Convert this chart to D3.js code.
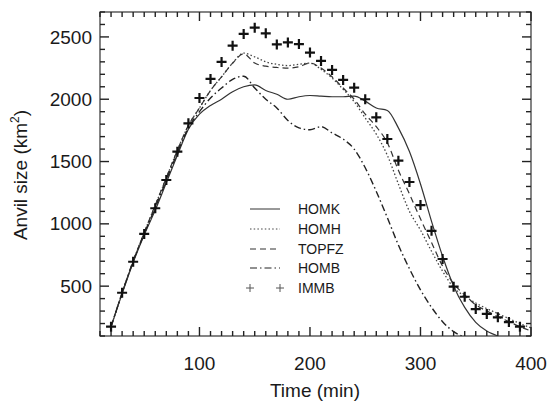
<!DOCTYPE html>
<html><head><meta charset="utf-8">
<script src="https://cdn.jsdelivr.net/npm/d3@7"></script>
<style>
html,body{margin:0;padding:0;background:#fff;}
svg{display:block;font-family:"Liberation Sans",Arial,Helvetica,sans-serif;}
</style></head>
<body><svg id="c" width="547" height="404"></svg>
<script>
const times = [20,30,40,50,60,70,80,90,100,110,120,130,140,150,160,170,180,190,200,210,220,230,240,250,260,270,280,290,300,310,320,330,340,350,360,370,380,390,400];
const HOMK  = [175,440,690,910,1110,1330,1550,1760,1880,1950,2000,2060,2100,2115,2070,2040,2000,2020,2030,2025,2020,2020,2025,1985,1930,1910,1770,1580,1320,1020,740,500,330,210,140,100,null,null,null];
const HOMH  = [175,445,700,930,1150,1370,1590,1790,1930,2070,2180,2290,2370,2340,2300,2280,2270,2280,2290,2240,2170,2080,1980,1850,1720,1550,1320,1100,950,780,620,490,420,365,320,280,240,200,165];
const TOPFZ = [175,445,700,930,1150,1370,1590,1790,1930,2070,2180,2290,2365,2290,2265,2255,2250,2260,2290,2250,2180,2090,2000,1880,1780,1650,1430,1240,1040,850,660,520,430,350,300,255,215,175,140];
const HOMB  = [175,445,700,920,1130,1350,1570,1770,1900,2010,2090,2160,2185,2090,2000,1930,1830,1770,1755,1780,1730,1680,1600,1450,1260,1050,830,640,470,330,215,135,90,null,null,null,null,null,null];
const IMMB  = [175,447,696,919,1125,1352,1579,1807,2010,2163,2299,2430,2524,2574,2529,2440,2456,2443,2374,2307,2235,2155,2093,2000,1855,1681,1507,1336,1151,944,718,496,415,316,277,250,212,175,null];
const seriesNames = ["HOMK","HOMH","TOPFZ","HOMB","IMMB"];
const xTickLabels = [100,200,300,400];
const yTickLabels = [500,1000,1500,2000,2500];
const xMinorTicks = [10,20,30,40,50,60,70,80,90,100,110,120,130,140,150,160,170,180,190,200,210,220,230,240,250,260,270,280,290,300,310,320,330,340,350,360,370,380,390,400];
const yMinorTicks = [100,200,300,400,500,600,700,800,900,1000,1100,1200,1300,1400,1500,1600,1700,1800,1900,2000,2100,2200,2300,2400,2500,2600,2700];

const svg = d3.select("#c");
const L=100, R=531, T=12, B=336;
const x = d3.scaleLinear().domain([10,400]).range([L,R]);
const y = d3.scaleLinear().domain([100,2700]).range([B,T]);
const axisColor = "#333", textColor = "#1a1a1a";

svg.append("defs").append("clipPath").attr("id","clip")
  .append("rect").attr("x",L).attr("y",T).attr("width",R-L).attr("height",B-T);

// tick labels
svg.append("g").selectAll("text").data(xTickLabels).join("text")
  .attr("x",d=>x(d)).attr("y",370).attr("text-anchor","middle")
  .attr("font-size",19).attr("fill",textColor).text(d=>d);
svg.append("g").selectAll("text").data(yTickLabels).join("text")
  .attr("x",92).attr("y",d=>y(d)).attr("dy","0.35em").attr("text-anchor","end")
  .attr("font-size",19).attr("fill",textColor).text(d=>d);

// titles
svg.append("text").attr("x",315).attr("y",397).attr("text-anchor","middle")
  .attr("font-size",19).attr("fill",textColor).text("Time (min)");
const yt = svg.append("text").attr("transform","translate(27,175) rotate(-90)")
  .attr("text-anchor","middle").attr("font-size",19).attr("fill",textColor);
yt.append("tspan").text("Anvil size (km");
yt.append("tspan").attr("font-size",12).attr("dy",-8).text("2");
yt.append("tspan").attr("dy",8).text(")");

// series
const styles = {
  HOMK:{dash:null, color:"#333", w:1.2},
  HOMH:{dash:"1.5,2.2", color:"#444", w:1.3},
  TOPFZ:{dash:"6,4", color:"#333", w:1.2},
  HOMB:{dash:"7,3,1.5,3", color:"#222", w:1.4}
};
const data = {HOMK,HOMH,TOPFZ,HOMB};
const line = d3.line().defined(d=>d[1]!=null).x(d=>x(d[0])).y(d=>y(d[1])).curve(d3.curveMonotoneX);
const pg = svg.append("g").attr("clip-path","url(#clip)");
["HOMK","HOMH","TOPFZ","HOMB"].forEach(k=>{
  pg.append("path").datum(times.map((t,i)=>[t,data[k][i]]))
    .attr("d",line).attr("fill","none").attr("stroke",styles[k].color)
    .attr("stroke-width",styles[k].w).attr("stroke-dasharray",styles[k].dash);
});
const crossPts = times.map((t,i)=>[t,IMMB[i]]).filter(d=>d[1]!=null);
const cs = 5;
pg.append("g").selectAll("path").data(crossPts).join("path")
  .attr("d",d=>{const cx=x(d[0]),cy=y(d[1]);return `M${cx-cs},${cy}H${cx+cs}M${cx},${cy-cs}V${cy+cs}`;})
  .attr("stroke","#111").attr("stroke-width",2.2).attr("fill","none");

// legend
const legY = [209,229,249,268,288];
const lg = svg.append("g");
seriesNames.forEach((k,i)=>{
  if(k!=="IMMB"){
    lg.append("path").attr("d",`M250,${legY[i]}H280`).attr("fill","none")
      .attr("stroke",styles[k].color).attr("stroke-width",1)
      .attr("stroke-dasharray",styles[k].dash);
  } else {
    [250,280].forEach(cx=>{
      lg.append("path").attr("d",`M${cx-4},${legY[i]}H${cx+4}M${cx},${legY[i]-4}V${legY[i]+4}`)
        .attr("stroke","#555").attr("stroke-width",1);
    });
  }
  lg.append("text").attr("x",298).attr("y",legY[i]).attr("dy","0.36em")
    .attr("font-size",14).attr("fill",textColor).text(k);
});

// frame and inward ticks on all four sides, drawn last (on top)
svg.append("rect").attr("x",L).attr("y",T).attr("width",R-L).attr("height",B-T)
  .attr("fill","none").attr("stroke",axisColor).attr("stroke-width",1.2);
const xt = [];
xMinorTicks.forEach(v=>{ xt.push({v, side:"b"}); xt.push({v, side:"t"}); });
const ytk = [];
yMinorTicks.forEach(v=>{ ytk.push({v, side:"l"}); ytk.push({v, side:"r"}); });
svg.append("g").selectAll("line").data(xt).join("line")
  .attr("x1", d=>x(d.v)).attr("x2", d=>x(d.v))
  .attr("y1", d=> d.side==="b" ? B : T)
  .attr("y2", d=> { const len = d.v%100===0 ? 9 : 5; return d.side==="b" ? B-len : T+len; })
  .style("stroke", "#222").style("stroke-width", "1.4px");
svg.append("g").selectAll("line").data(ytk).join("line")
  .attr("y1", d=>y(d.v)).attr("y2", d=>y(d.v))
  .attr("x1", d=> d.side==="l" ? L : R)
  .attr("x2", d=> { const len = d.v%500===0 ? 9 : 5; return d.side==="l" ? L+len : R-len; })
  .style("stroke", "#222").style("stroke-width", "1.4px");
</script></body></html>
